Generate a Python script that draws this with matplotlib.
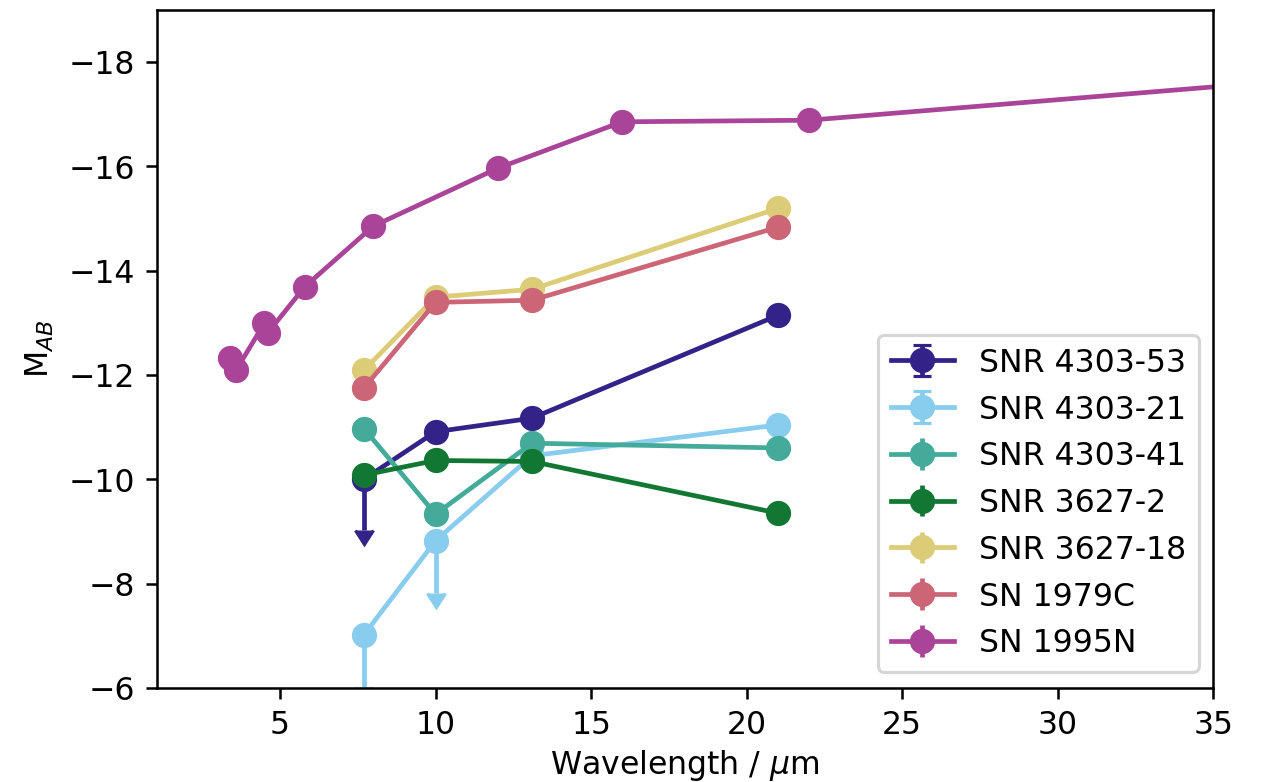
"""Mid-IR absolute magnitudes of SNRs compared with SN 1979C and SN 1995N."""
import numpy as np
import matplotlib
matplotlib.use("Agg")
import matplotlib.pyplot as plt

DPI = 227

# MIRI bands used for the remnants (um)
miri_wave = [7.7, 10.0, 13.1, 21.0]

snr4303_53 = [-10.0, -10.91, -11.17, -13.14]
snr4303_53_err = [0.97, 0.0, 0.0, 0.0]
snr4303_53_lim = [True, False, False, False]

snr4303_21 = [-7.02, -8.82, -10.45, -11.04]
snr4303_21_err = [1.0, 1.0, 0.0, 0.0]
snr4303_21_lim = [True, True, False, False]

snr4303_41 = [-10.97, -9.33, -10.69, -10.60]
snr3627_2 = [-10.08, -10.36, -10.34, -9.35]
snr3627_18 = [-12.09, -13.49, -13.64, -15.19]
sn1979c = [-11.75, -13.39, -13.43, -14.83]
small_err = [0.1, 0.1, 0.1, 0.1]

# SN 1995N: WISE + IRAC + IRS peak-up + MIPS
sn1995n_wave = [3.4, 3.6, 4.5, 4.6, 5.8, 8.0, 12.0, 16.0, 22.0, 70.0]
sn1995n = [-12.32, -12.10, -12.99, -12.80, -13.69, -14.85, -15.96, -16.85, -16.88, -19.24]
sn1995n_err = [0.1] * len(sn1995n)

colors = {
    "SNR 4303-53": "#332288",
    "SNR 4303-21": "#88CCEE",
    "SNR 4303-41": "#44AA99",
    "SNR 3627-2": "#117733",
    "SNR 3627-18": "#DDCC77",
    "SN 1979C": "#CC6677",
    "SN 1995N": "#AA4499",
}

fig = plt.figure(figsize=(1261.4 / DPI, 782.4 / DPI), dpi=DPI)
ax = fig.add_axes([157 / 1261, 94 / 782, 1056 / 1261, 678 / 782])

# magnitudes: brighter upwards, so invert before drawing the limit arrows
ax.set_xlim(1.05, 35)
ax.set_ylim(-6, -19)

ax.errorbar(miri_wave, snr4303_53, yerr=snr4303_53_err, lolims=snr4303_53_lim,
            marker="o", ms=7, capsize=3, color=colors["SNR 4303-53"], label="SNR 4303-53")
ax.errorbar(miri_wave, snr4303_21, yerr=snr4303_21_err, lolims=snr4303_21_lim,
            marker="o", ms=7, capsize=3, color=colors["SNR 4303-21"], label="SNR 4303-21")
ax.errorbar(miri_wave, snr4303_41, yerr=small_err, marker="o", ms=7,
            color=colors["SNR 4303-41"], label="SNR 4303-41")
ax.errorbar(miri_wave, snr3627_2, yerr=small_err, marker="o", ms=7,
            color=colors["SNR 3627-2"], label="SNR 3627-2")
ax.errorbar(miri_wave, snr3627_18, yerr=small_err, marker="o", ms=7,
            color=colors["SNR 3627-18"], label="SNR 3627-18")
ax.errorbar(miri_wave, sn1979c, yerr=small_err, marker="o", ms=7,
            color=colors["SN 1979C"], label="SN 1979C")
ax.errorbar(sn1995n_wave, sn1995n, yerr=sn1995n_err, marker="o", ms=7,
            color=colors["SN 1995N"], label="SN 1995N")

ax.set_xlim(1.05, 35)
ax.set_ylim(-6, -19)
ax.set_xticks([5, 10, 15, 20, 25, 30, 35])
ax.set_yticks([-18, -16, -14, -12, -10, -8, -6])
ax.set_xlabel(r"Wavelength / $\mu$m", labelpad=2)
ax.set_ylabel(r"M$_{AB}$")
ax.legend(loc="lower right", bbox_to_anchor=(0.986, 0.024), borderaxespad=0)

fig.savefig("out.png", dpi=DPI)
plt.close(fig)
